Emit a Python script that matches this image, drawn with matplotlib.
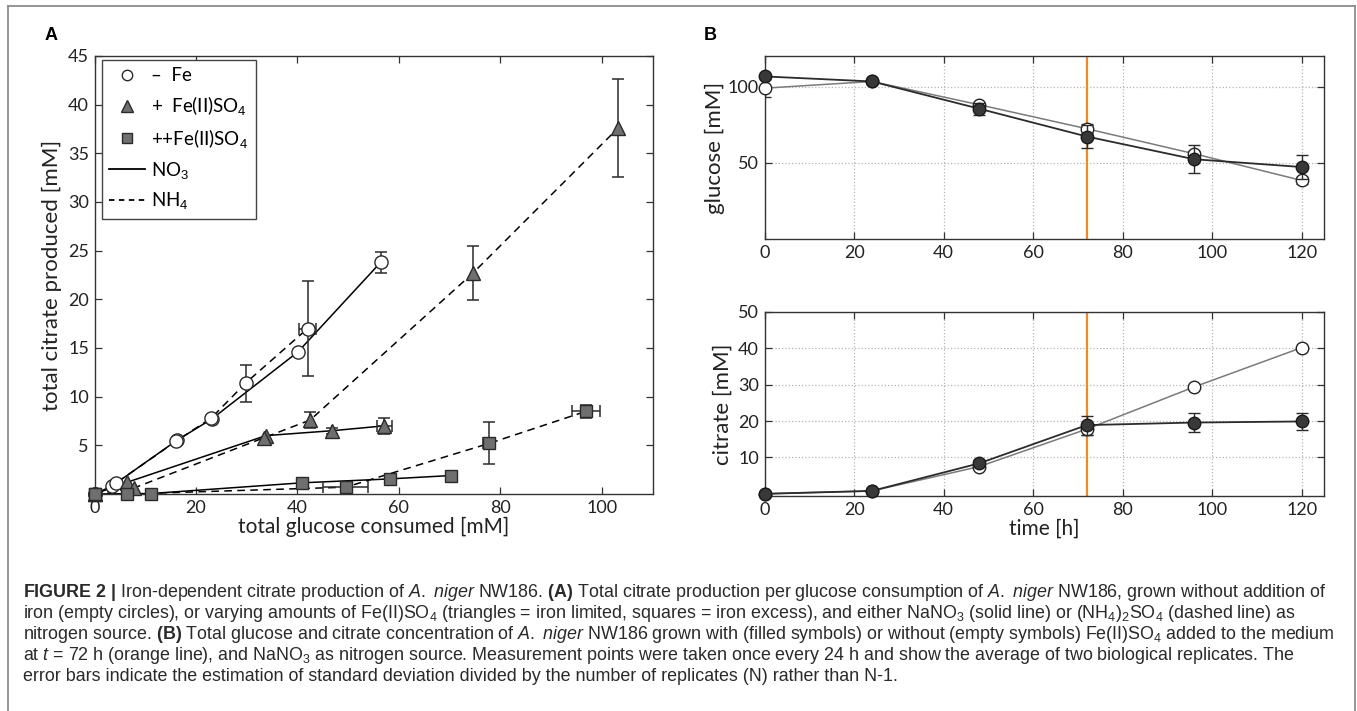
import numpy as np
import matplotlib
import matplotlib.pyplot as plt
from matplotlib.lines import Line2D

matplotlib.use("Agg")

# ---- panel A: total glucose consumed [mM] vs total citrate produced [mM] ----
# circles = - Fe, triangles = + Fe(II)SO4, squares = ++Fe(II)SO4
circ_no3_x = [0, 3.4, 16.2, 23.1, 40.1, 56.4]
circ_no3_y = [0, 0.8, 5.5, 7.7, 14.6, 23.8]
circ_no3_xerr = [0, 0, 0, 0, 0, 0]
circ_no3_yerr = [0, 0, 0, 0, 0, 1.05]

circ_nh4_x = [0, 4.2, 16.0, 23.0, 29.8, 42.0]
circ_nh4_y = [0, 1.1, 5.4, 7.8, 11.4, 17.0]
circ_nh4_xerr = [0, 0, 0, 0, 0, 1.6]
circ_nh4_yerr = [0, 0, 0, 0, 1.9, 4.9]

tri_no3_x = [0, 6.4, 33.8, 46.8, 57.1]
tri_no3_y = [0, 1.2, 6.0, 6.5, 7.0]
tri_no3_xerr = [0, 0, 0, 0, 1.5]
tri_no3_yerr = [0, 0, 0, 0.3, 0.85]

tri_nh4_x = [0, 7.7, 33.5, 42.5, 74.6, 103.2]
tri_nh4_y = [0, 0.6, 5.8, 7.6, 22.7, 37.6]
tri_nh4_xerr = [0, 0, 0, 0, 0, 0]
tri_nh4_yerr = [0, 0, 0, 0.8, 2.75, 5.0]

sq_no3_x = [0, 11.2, 40.9, 58.2, 70.3]
sq_no3_y = [0, 0.05, 1.15, 1.55, 1.9]
sq_no3_xerr = [0, 0, 0, 0, 0]
sq_no3_yerr = [0, 0, 0, 0, 0]

sq_nh4_x = [0, 6.4, 49.5, 77.8, 96.9]
sq_nh4_y = [0, 0.0, 0.7, 5.2, 8.5]
sq_nh4_xerr = [0, 0, 4.5, 1.2, 2.8]
sq_nh4_yerr = [0, 0, 0, 2.15, 0.65]

# ---- panel B: time course, NaNO3, with / without Fe(II)SO4 at 72 h ----
time_h = [0, 24, 48, 72, 96, 120]
glc_fe = [106.6, 103.3, 85.4, 67.2, 52.3, 47.2]
glc_fe_err = [0, 0, 4.0, 7.6, 9.1, 8.0]
glc_nofe = [98.9, 103.3, 88.0, 72.3, 55.9, 38.4]
glc_nofe_err = [6.0, 0, 1.0, 3.0, 2.0, 2.5]
cit_fe = [0.0, 0.8, 8.4, 18.9, 19.6, 19.9]
cit_fe_err = [0, 0, 0.8, 2.6, 2.6, 2.4]
cit_nofe = [0.0, 0.8, 7.5, 17.8, 29.4, 40.2]
cit_nofe_err = [0, 0, 0.5, 1.5, 0.5, 0.5]
fe_addition_h = 72

caption_lines = [
    r"$\mathbf{FIGURE\ 2\ |}$ Iron-dependent citrate production of $\mathit{A.\ niger}$ NW186. "
    r"$\mathbf{(A)}$ Total citrate production per glucose consumption of $\mathit{A.\ niger}$ NW186, grown without addition of",
    r"iron (empty circles), or varying amounts of Fe(II)SO$_4$ (triangles = iron limited, squares = iron excess), "
    r"and either NaNO$_3$ (solid line) or (NH$_4$)$_2$SO$_4$ (dashed line) as",
    r"nitrogen source. $\mathbf{(B)}$ Total glucose and citrate concentration of $\mathit{A.\ niger}$ NW186 grown with "
    r"(filled symbols) or without (empty symbols) Fe(II)SO$_4$ added to the medium",
    r"at $\mathit{t}$ = 72 h (orange line), and NaNO$_3$ as nitrogen source. Measurement points were taken once "
    r"every 24 h and show the average of two biological replicates. The",
    r"error bars indicate the estimation of standard deviation divided by the number of replicates (N) rather than N-1.",
]

plt.rcParams["font.family"] = ["Lato", "DejaVu Sans"]
plt.rcParams["mathtext.fontset"] = "custom"
plt.rcParams["mathtext.rm"] = "Liberation Sans"
plt.rcParams["mathtext.it"] = "Liberation Sans:italic"
plt.rcParams["mathtext.bf"] = "Liberation Sans:bold"

W, H = 1357, 711
fig = plt.figure(figsize=(W / 100, H / 100), dpi=100)


def px_axes(left, top, right, bottom):
    return fig.add_axes([left / W, 1 - bottom / H, (right - left) / W, (bottom - top) / H])


def style_axes(ax):
    for s in ax.spines.values():
        s.set_color("#333333")
        s.set_linewidth(1.0)
    ax.tick_params(direction="in", length=5, width=0.9, color="#333333",
                   top=True, right=True, labelsize=13, pad=4, labelcolor="#222222")


def draw_series(ax, x, y, xerr, yerr, marker, ms, face, ls):
    x = np.asarray(x, float)
    y = np.asarray(y, float)
    xerr = np.asarray(xerr, float)
    yerr = np.asarray(yerr, float)
    if ls == "--":
        ax.plot(x, y, color="black", lw=1.1, ls="--", dashes=(5, 3.5), zorder=2)
    else:
        ax.plot(x, y, color="black", lw=1.1, zorder=2)
    m = (xerr > 0) | (yerr > 0)
    if m.any():
        ax.errorbar(x[m], y[m], yerr=yerr[m], xerr=xerr[m], fmt="none", ecolor="#2a2a2a",
                    elinewidth=1.1, capsize=4, capthick=1.1, zorder=3)
    ax.plot(x, y, ls="none", marker=marker, ms=ms, mfc=face, mec="#2a2a2a", mew=1.0,
            zorder=4, clip_on=False)


# ---------------- panel A ----------------
axA = px_axes(94.5, 56, 652.6, 494)
style_axes(axA)
gray = "#6f6f6f"
draw_series(axA, circ_no3_x, circ_no3_y, circ_no3_xerr, circ_no3_yerr, "o", 9.5, "white", "-")
draw_series(axA, circ_nh4_x, circ_nh4_y, circ_nh4_xerr, circ_nh4_yerr, "o", 9.5, "white", "--")
draw_series(axA, tri_no3_x, tri_no3_y, tri_no3_xerr, tri_no3_yerr, "^", 10, gray, "-")
draw_series(axA, tri_nh4_x, tri_nh4_y, tri_nh4_xerr, tri_nh4_yerr, "^", 10, gray, "--")
draw_series(axA, sq_no3_x, sq_no3_y, sq_no3_xerr, sq_no3_yerr, "s", 8.5, gray, "-")
draw_series(axA, sq_nh4_x, sq_nh4_y, sq_nh4_xerr, sq_nh4_yerr, "s", 8.5, gray, "--")
axA.set_xlim(0, 110)
axA.set_ylim(0, 45)
axA.set_xticks(np.arange(0, 101, 20))
axA.set_yticks(np.arange(5, 46, 5))
axA.set_xlabel("total glucose consumed [mM]", fontsize=15, labelpad=1, color="#222222")
axA.set_ylabel("total citrate produced [mM]", fontsize=16, labelpad=4, color="#222222")

handles = [
    Line2D([], [], ls="none", marker="o", ms=7.5, mfc="white", mec="#2a2a2a"),
    Line2D([], [], ls="none", marker="^", ms=8, mfc=gray, mec="#2a2a2a"),
    Line2D([], [], ls="none", marker="s", ms=6.5, mfc=gray, mec="#2a2a2a"),
    Line2D([], [], color="black", lw=1.3),
    Line2D([], [], color="black", lw=1.3, ls="--", dashes=(3, 2.5)),
]
labels = ["\u2013  Fe", "+  Fe(II)SO$_4$", "++Fe(II)SO$_4$", "NO$_3$", "NH$_4$"]
leg = axA.legend(handles, labels, loc="upper left", bbox_to_anchor=(0.013, 0.991),
                 fontsize=13.5, handlelength=1.9, handletextpad=0.35, labelspacing=0.52,
                 borderpad=0.4, borderaxespad=0, fancybox=False, framealpha=1,
                 edgecolor="#444444")
leg.get_frame().set_linewidth(1.0)

# ---------------- panel B ----------------
orange = "#f08a24"


def draw_time(ax, y_fe, e_fe, y_nofe, e_nofe):
    ax.plot(time_h, y_nofe, color="#7a7a7a", lw=1.1, zorder=2)
    ax.errorbar(time_h, y_nofe, yerr=e_nofe, fmt="none", ecolor="#333333",
                elinewidth=1.0, capsize=4, zorder=3)
    ax.plot(time_h, y_nofe, ls="none", marker="o", ms=9, mfc="white", mec="#222222",
            mew=1.0, zorder=4, clip_on=False)
    ax.plot(time_h, y_fe, color="#2b2b2b", lw=1.3, zorder=5)
    ax.errorbar(time_h, y_fe, yerr=e_fe, fmt="none", ecolor="#2b2b2b",
                elinewidth=1.0, capsize=4, zorder=6)
    ax.plot(time_h, y_fe, ls="none", marker="o", ms=9, mfc="#383838", mec="#1a1a1a",
            mew=1.0, zorder=7, clip_on=False)
    ax.axvline(fe_addition_h, color=orange, lw=1.6, zorder=1)
    ax.set_xlim(0, 125)
    ax.set_xticks(np.arange(0, 121, 20))
    ax.grid(True, ls=":", color="#b5b5b5", lw=0.9)
    ax.set_axisbelow(True)


axB1 = px_axes(764.6, 56, 1324, 239)
style_axes(axB1)
draw_time(axB1, glc_fe, glc_fe_err, glc_nofe, glc_nofe_err)
axB1.set_ylim(0, 120)
axB1.set_yticks([50, 100])
axB1.set_ylabel("glucose [mM]", fontsize=16, labelpad=2, color="#222222")

axB2 = px_axes(764.6, 312, 1324, 496)
style_axes(axB2)
draw_time(axB2, cit_fe, cit_fe_err, cit_nofe, cit_nofe_err)
axB2.set_ylim(-0.6, 50)
axB2.set_yticks([10, 20, 30, 40, 50])
axB2.set_ylabel("citrate [mM]", fontsize=16, labelpad=4, color="#222222")
axB2.set_xlabel("time [h]", fontsize=15, labelpad=1, color="#222222")

# panel letters
fig.text(51 / W, 1 - 36 / H, "A", fontsize=13, fontweight="bold", family="Liberation Sans",
         ha="center", va="center")
fig.text(710 / W, 1 - 36 / H, "B", fontsize=13, fontweight="bold", family="Liberation Sans",
         ha="center", va="center")

# caption
for i, line in enumerate(caption_lines):
    fig.text(23 / W, 1 - (597 + 21 * i) / H, line, fontsize=12.9, family="Liberation Sans",
             color="#2a2a2a", ha="left", va="baseline")

# outer frame
frame_kw = dict(color="#8c8c8c", lw=1.3, transform=fig.transFigure)
fig.add_artist(Line2D([8 / W, 8 / W], [0, 1 - 6 / H], **frame_kw))
fig.add_artist(Line2D([1355 / W, 1355 / W], [0, 1 - 6 / H], **frame_kw))
fig.add_artist(Line2D([8 / W, 1355 / W], [1 - 6 / H, 1 - 6 / H], **frame_kw))

fig.savefig("out.png", dpi=100)
